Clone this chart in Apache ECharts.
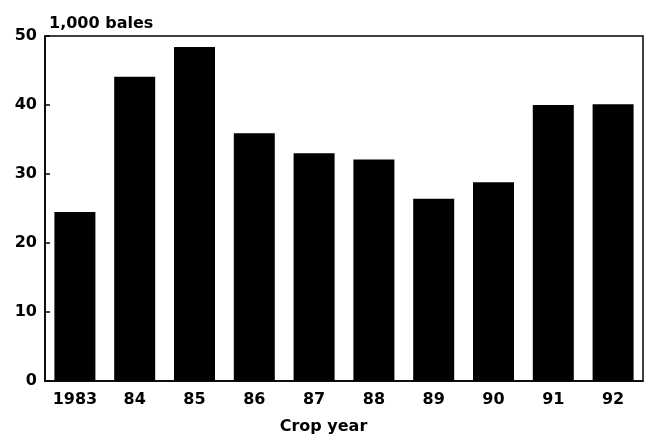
<!DOCTYPE html>
<html>
<head>
<meta charset="utf-8">
<script src="https://cdn.jsdelivr.net/npm/echarts@6/dist/echarts.min.js"></script>
<style>html,body{margin:0;padding:0;background:#fff}#c{width:647px;height:436px}</style>
</head>
<body>
<div id="c"></div>
<script>
const categories = ['1983', '84', '85', '86', '87', '88', '89', '90', '91', '92'];
const values = [24.5, 44.1, 48.4, 35.9, 33.0, 32.1, 26.4, 28.8, 40.0, 40.1];
const yTicks = [0, 10, 20, 30, 40, 50];
const yTitle = '1,000 bales';
const xTitle = 'Crop year';

const font = 'DejaVu Sans, sans-serif';
const chart = echarts.init(document.getElementById('c'));
chart.setOption({
  animation: false,
  backgroundColor: '#fff',
  grid: { left: 45, right: 4, top: 36, bottom: 55, show: true, borderColor: '#000', borderWidth: 1.5, backgroundColor: 'transparent' },
  title: [
    { text: yTitle, left: 44, top: 11, textStyle: { fontFamily: font, fontWeight: 'bold', fontSize: 16, color: '#000' } },
    { text: xTitle, left: 'center', top: 414, textStyle: { fontFamily: font, fontWeight: 'bold', fontSize: 16, color: '#000' } }
  ],
  xAxis: {
    type: 'category',
    data: categories,
    axisLine: { lineStyle: { color: '#000', width: 1.5 } },
    axisTick: { show: false },
    axisLabel: { color: '#000', fontFamily: font, fontWeight: 'bold', fontSize: 16, margin: 11 }
  },
  yAxis: {
    type: 'value',
    min: yTicks[0],
    max: yTicks[yTicks.length - 1],
    interval: 10,
    splitLine: { show: false },
    axisLine: { show: true, lineStyle: { color: '#000', width: 1.5 } },
    axisTick: { show: true, inside: true, length: 5, lineStyle: { color: '#000', width: 1.5 } },
    axisLabel: { color: '#000', fontFamily: font, fontWeight: 'bold', fontSize: 16, margin: 8 }
  },
  series: [{
    type: 'bar',
    data: values,
    barWidth: 41,
    itemStyle: { color: '#000' }
  }]
});
</script>
</body>
</html>
